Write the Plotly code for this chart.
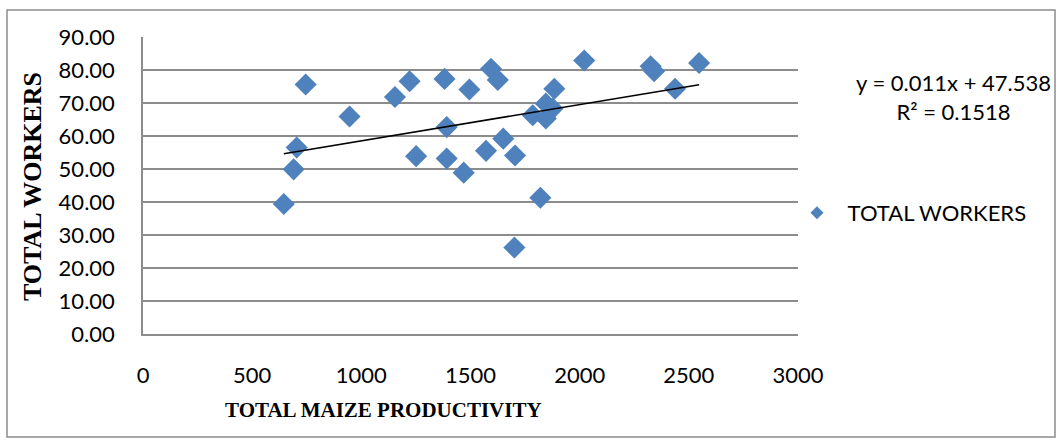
"""
Scatter of total workers against total maize productivity, with linear trendline.
"""

import plotly.graph_objects as go

# Data
maize_productivity = [645, 690, 704, 745, 946, 1154, 1221, 1251, 1381, 1391,
                      1391, 1469, 1495, 1571, 1594, 1625, 1650, 1701, 1704, 1785,
                      1820, 1845, 1845, 1876, 1884, 2021, 2325, 2341, 2437, 2547]
total_workers = [39.4, 49.9, 56.5, 75.6, 65.9, 71.8, 76.6, 53.9, 77.3, 62.7,
                 53.2, 48.9, 74.1, 55.5, 80.4, 77.0, 59.2, 26.2, 54.1, 66.3,
                 41.3, 69.8, 65.3, 68.3, 74.3, 82.9, 81.1, 79.6, 74.3, 82.1]

# Trendline coefficients as printed on the chart
slope = 0.011
intercept = 47.538
r_squared = 0.1518

y_ticks = [0, 10, 20, 30, 40, 50, 60, 70, 80, 90]
x_ticks = [0, 500, 1000, 1500, 2000, 2500, 3000]

MARKER_BLUE = '#4F81BD'
GRID_GRAY = '#8C8C8C'
TICK_FONT = dict(family='Lato', size=22, color='#000000')

# Plot area in pixels (used to place the free-floating text)
L, R, T, B = 143, 798, 37, 334
W, H = 1061, 441


def px_x(px):
    return (px - L) / (R - L)


def px_y(py):
    return (B - py) / (B - T)


fig = go.Figure()

fig.add_trace(go.Scatter(
    x=maize_productivity,
    y=total_workers,
    mode='markers',
    marker=dict(symbol='diamond', size=17, color=MARKER_BLUE),
    showlegend=False,
    name='TOTAL WORKERS'
))

# Legend entry with a smaller symbol, as in the original
fig.add_trace(go.Scatter(
    x=[None], y=[None],
    mode='markers',
    marker=dict(symbol='diamond', size=10, color=MARKER_BLUE),
    name='  TOTAL WORKERS'
))

x_min, x_max = min(maize_productivity), max(maize_productivity)
fig.add_trace(go.Scatter(
    x=[x_min, x_max],
    y=[slope * x_min + intercept, slope * x_max + intercept],
    mode='lines',
    line=dict(color='#000000', width=1.6),
    showlegend=False,
    hoverinfo='skip'
))

fig.update_layout(
    width=W, height=H,
    margin=dict(l=L, r=W - R, t=T, b=H - B),
    plot_bgcolor='white',
    paper_bgcolor='white',
    xaxis=dict(
        range=[0, 3000],
        tickvals=x_ticks,
        showgrid=False,
        zeroline=False,
        showline=True,
        linecolor=GRID_GRAY,
        linewidth=1.5,
        tickfont=TICK_FONT,
        ticklabelstandoff=21
    ),
    yaxis=dict(
        range=[0, 90],
        tickvals=y_ticks,
        tickformat='.2f',
        showgrid=True,
        gridcolor=GRID_GRAY,
        gridwidth=1.5,
        zeroline=False,
        showline=True,
        linecolor=GRID_GRAY,
        linewidth=1.5,
        tickfont=TICK_FONT,
        ticklabelstandoff=22
    ),
    legend=dict(
        x=px_x(797), y=px_y(213),
        xanchor='left', yanchor='middle',
        font=dict(family='Lato', size=22, color='#000000'),
        bgcolor='rgba(0,0,0,0)'
    ),
    annotations=[
        dict(text='<b>TOTAL MAIZE PRODUCTIVITY</b>', x=px_x(383), y=px_y(410),
             xref='paper', yref='paper', showarrow=False,
             font=dict(family='Liberation Serif', size=21, color='#000000'),
             xanchor='center', yanchor='middle'),
        dict(text='<b>TOTAL WORKERS</b>', x=px_x(33), y=px_y(187),
             xref='paper', yref='paper', showarrow=False, textangle=-90,
             font=dict(family='Liberation Serif', size=26, color='#000000'),
             xanchor='center', yanchor='middle'),
        dict(text=f'y = {slope}x + {intercept}<br>R² = {r_squared}',
             x=px_x(953), y=px_y(97), xref='paper', yref='paper',
             showarrow=False, align='center',
             font=dict(family='Lato', size=22, color='#000000'),
             xanchor='center', yanchor='middle'),
    ],
    shapes=[
        dict(type='rect', xref='paper', yref='paper',
             x0=px_x(7), x1=px_x(1055), y0=px_y(437), y1=px_y(10),
             line=dict(color=GRID_GRAY, width=1.5), layer='below'),
    ]
)

# Drop the browser's default page margin so the figure sits at the window corner
fig.write_html("out.html", config={'displayModeBar': False},
               post_script="document.body.style.margin='0';")
